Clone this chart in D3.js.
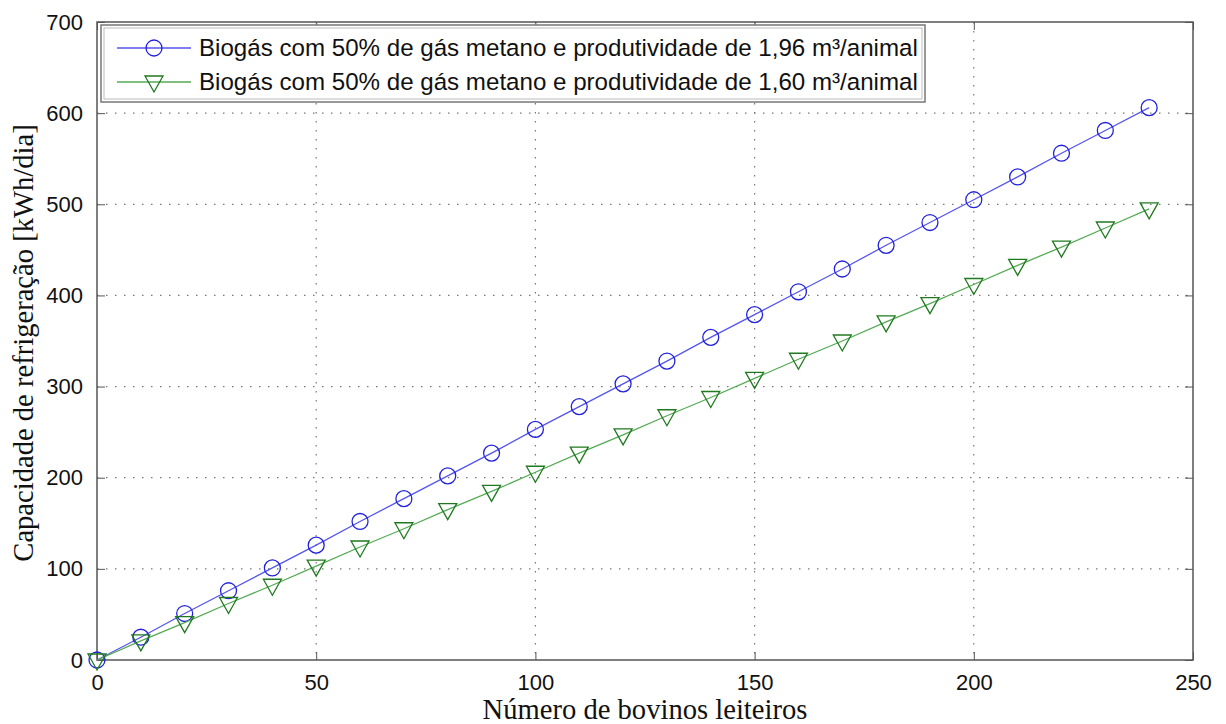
<!DOCTYPE html>
<html>
<head>
<meta charset="utf-8">
<script src="https://cdn.jsdelivr.net/npm/d3@7"></script>
<style>
  body { margin: 0; background: #fff; }
  svg { display: block; }
</style>
</head>
<body>
<script>
// data
const bovinos = [0, 10, 20, 30, 40, 50, 60, 70, 80, 90, 100, 110, 120, 130, 140, 150, 160, 170, 180, 190, 200, 210, 220, 230, 240];
const cap196 = [0, 25, 51, 76, 101, 126, 152, 177, 202, 227, 253, 278, 303, 328, 354, 379, 404, 429, 455, 480, 505, 530, 556, 581, 606];
const cap160 = [0, 21, 41, 62, 82, 103, 124, 144, 165, 185, 206, 227, 247, 268, 288, 309, 330, 350, 371, 391, 412, 433, 453, 474, 495];
const xTicks = [0, 50, 100, 150, 200, 250];
const yTicks = [0, 100, 200, 300, 400, 500, 600, 700];
const legendLabels = [
    "Biogás com 50% de gás metano e produtividade de 1,96 m³/animal",
    "Biogás com 50% de gás metano e produtividade de 1,60 m³/animal"
];

const width = 1226, height = 724;
const margin = { left: 97, right: 33, top: 22, bottom: 64 };

var svg = d3.select("body")
    .append("svg")
    .attr("width", width)
    .attr("height", height);

const xScale = d3.scaleLinear().domain([0, 250]).range([margin.left, width - margin.right]);
const yScale = d3.scaleLinear().domain([0, 700]).range([height - margin.bottom, margin.top]);

const x0 = xScale(0), x1 = xScale(250), y0 = yScale(0), y1 = yScale(700);

// dotted grid
svg.append('g').selectAll('line.vgrid')
    .data(xTicks.slice(1, -1)).enter().append('line')
    .attr('x1', d => xScale(d)).attr('x2', d => xScale(d))
    .attr('y1', y1).attr('y2', y0)
    .attr('stroke', '#777').attr('stroke-width', 1.2)
    .attr('stroke-dasharray', '1.5,7.5');
svg.append('g').selectAll('line.hgrid')
    .data(yTicks.slice(1, -1)).enter().append('line')
    .attr('x1', x0).attr('x2', x1)
    .attr('y1', d => yScale(d)).attr('y2', d => yScale(d))
    .attr('stroke', '#777').attr('stroke-width', 1.2)
    .attr('stroke-dasharray', '1.5,7.5');

// axes (inward ticks, MATLAB box)
const tickLen = 8;
const xAxis = d3.axisBottom(xScale).tickValues(xTicks).tickSizeInner(-tickLen).tickSizeOuter(0).tickPadding(14);
const yAxis = d3.axisLeft(yScale).tickValues(yTicks).tickSizeInner(-tickLen).tickSizeOuter(0).tickPadding(14);
const xTop = d3.axisTop(xScale).tickValues(xTicks).tickSizeInner(-tickLen).tickSizeOuter(0).tickFormat('');
const yRight = d3.axisRight(yScale).tickValues(yTicks).tickSizeInner(-tickLen).tickSizeOuter(0).tickFormat('');

const axisStyle = g => {
    g.select('.domain').remove();
    g.selectAll('line').attr('stroke', '#555');
    g.selectAll('text')
        .attr('fill', '#111')
        .attr('font-family', 'Liberation Sans, Arial, sans-serif')
        .attr('font-size', 22);
};

svg.append('g').attr('transform', `translate(0,${y0})`).call(xAxis).call(axisStyle);
svg.append('g').attr('transform', `translate(${x0},0)`).call(yAxis).call(axisStyle);
svg.append('g').attr('transform', `translate(0,${y1})`).call(xTop).call(axisStyle);
svg.append('g').attr('transform', `translate(${x1},0)`).call(yRight).call(axisStyle);

svg.append('rect')
    .attr('x', x0).attr('y', y1)
    .attr('width', x1 - x0).attr('height', y0 - y1)
    .attr('fill', 'none').attr('stroke', '#555').attr('stroke-width', 1.5);

// series
const series = [
    { values: cap196, line: '#5555ee', stroke: '#2222dd', marker: 'circle' },
    { values: cap160, line: '#55aa55', stroke: '#1f7a1f', marker: 'triangle' }
];

const line = d3.line().x((d, i) => xScale(bovinos[i])).y(d => yScale(d));
const circleSym = d3.symbol().type(d3.symbolCircle).size(200);
const triSym = 'M-9,-6 L9,-6 L0,10 Z';

series.forEach(s => {
    svg.append('path')
        .datum(s.values)
        .attr('d', line)
        .attr('fill', 'none')
        .attr('stroke', s.line)
        .attr('stroke-width', 1.3);

    svg.append('g').selectAll('path')
        .data(s.values).enter().append('path')
        .attr('transform', (d, i) => `translate(${xScale(bovinos[i])},${yScale(d)})`)
        .attr('d', s.marker === 'circle' ? circleSym() : triSym)
        .attr('fill', 'none')
        .attr('stroke', s.stroke)
        .attr('stroke-width', 1.3);
});

// legend
const legend = svg.append('g');
legend.append('rect')
    .attr('x', 101).attr('y', 25).attr('width', 824).attr('height', 77)
    .attr('fill', '#fff').attr('stroke', '#777').attr('stroke-width', 1.5);
legend.append('rect')
    .attr('x', 104).attr('y', 28).attr('width', 818).attr('height', 71)
    .attr('fill', 'none').attr('stroke', '#bbb').attr('stroke-width', 1);

const rowY = [48, 82];
series.forEach((s, i) => {
    legend.append('line')
        .attr('x1', 117).attr('x2', 191)
        .attr('y1', rowY[i]).attr('y2', rowY[i])
        .attr('stroke', s.line).attr('stroke-width', 1.3);
    legend.append('path')
        .attr('transform', `translate(154,${rowY[i]})`)
        .attr('d', s.marker === 'circle' ? circleSym() : triSym)
        .attr('fill', 'none').attr('stroke', s.stroke).attr('stroke-width', 1.3);
    const t = legend.append('text')
        .attr('x', 199).attr('y', rowY[i])
        .attr('dy', '0.35em')
        .attr('font-family', 'Liberation Sans, Arial, sans-serif')
        .attr('font-size', 22)
        .attr('fill', '#111')
        .text(legendLabels[i]);
    const w = t.node().getComputedTextLength();
    t.attr('font-size', 22 * 719 / w);
});

// axis titles
svg.append('text')
    .attr('x', (x0 + x1) / 2).attr('y', 719)
    .attr('text-anchor', 'middle')
    .attr('font-family', 'Liberation Serif, Times New Roman, serif')
    .attr('font-size', 28.6)
    .attr('fill', '#111')
    .text('Número de bovinos leiteiros');

svg.append('text')
    .attr('transform', `translate(33,${(y0 + y1) / 2 + 2}) rotate(-90)`)
    .attr('text-anchor', 'middle')
    .attr('font-family', 'Liberation Serif, Times New Roman, serif')
    .attr('font-size', 28.6)
    .attr('fill', '#111')
    .text('Capacidade de refrigeração [kWh/dia]');
</script>
</body>
</html>
